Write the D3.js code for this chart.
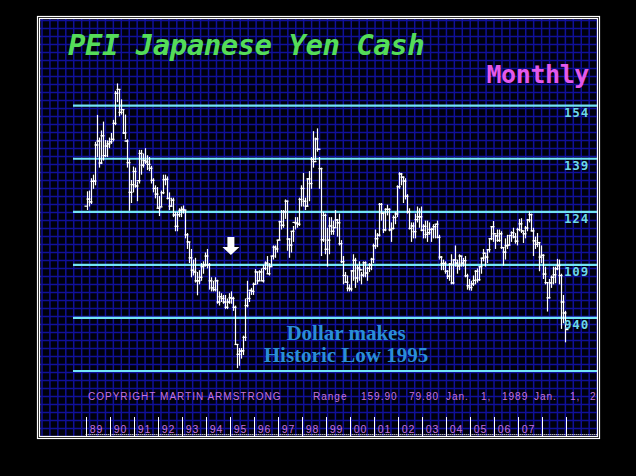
<!DOCTYPE html>
<html>
<head>
<meta charset="utf-8">
<script src="https://cdn.jsdelivr.net/npm/d3@7"></script>
<style>
  html, body { margin: 0; padding: 0; background: #000; }
  svg { display: block; }
</style>
</head>
<body>
<svg id="chart" width="636" height="476"></svg>
<script>
// ---------- DATA (monthly USD/JPY, Jan 1989 .. Dec 2008) ----------
const startYear = 1989;
const firstOpen = 125.6;
const highs = [
  129.8,130.0,133.5,134.5,143.8,151.4,145.0,147.0,149.5,144.3,144.2,145.0,
  146.3,150.0,158.2,160.3,158.5,155.8,153.0,151.5,144.5,139.0,133.0,136.8,
  136.5,132.5,141.5,141.5,140.5,142.0,140.0,139.5,137.0,133.5,131.5,131.0,
  128.5,130.0,134.5,134.5,134.0,129.5,128.0,128.0,124.0,124.0,125.0,125.5,
  125.8,124.5,118.0,115.5,113.5,110.5,111.0,107.0,107.5,109.5,110.0,112.5,
  113.5,109.5,105.5,104.5,105.5,104.8,101.5,101.0,100.5,100.5,99.5,101.0,
  101.5,100.0,97.5,86.6,85.5,85.5,89.0,99.5,104.5,101.5,102.5,104.0,
  107.8,107.0,107.5,108.0,109.0,110.0,111.5,109.5,111.5,114.5,114.5,116.0,
  121.5,124.5,124.5,127.5,127.2,116.5,118.5,120.0,122.5,122.5,128.0,131.5,
  135.0,128.0,133.5,135.5,139.5,146.8,145.0,147.6,139.5,136.5,124.0,123.5,
  119.5,122.5,122.5,121.5,124.5,122.0,123.5,116.0,111.5,107.0,106.0,103.5,
  107.5,112.0,111.0,109.0,110.0,107.0,110.0,110.0,108.5,109.5,111.0,115.0,
  119.0,118.0,126.5,126.5,124.0,125.0,126.0,125.0,121.0,123.0,124.0,131.5,
  135.2,135.0,134.0,133.5,129.0,125.0,121.0,121.0,123.5,125.5,125.0,125.5,
  120.5,121.5,121.5,121.0,119.5,120.5,120.5,121.5,117.5,111.5,110.5,110.0,
  107.5,109.5,112.0,110.5,114.5,110.5,112.0,111.5,111.0,111.5,106.5,105.0,
  104.5,106.0,107.5,108.0,108.5,111.0,113.5,112.0,113.5,116.5,120.0,121.4,
  117.5,119.0,119.0,118.5,114.0,116.5,117.5,117.5,118.5,119.5,118.0,119.5,
  122.0,122.2,118.5,120.0,122.0,124.1,123.5,119.5,117.0,118.0,115.5,114.5,
  112.0,108.5,104.0,105.0,106.0,108.5,108.5,110.7,110.5,106.5,100.5,96.0
];
const lows = [
  124.5,125.5,126.2,130.5,131.5,139.5,136.5,137.5,138.5,139.5,139.5,142.0,
  143.2,143.9,148.5,155.0,151.0,151.5,146.0,144.5,136.5,124.3,126.5,129.5,
  130.8,127.0,132.0,134.5,136.5,137.5,135.8,135.5,132.0,129.5,127.8,125.0,
  122.8,125.5,129.0,131.5,127.5,124.5,125.5,122.5,118.5,118.5,122.5,122.5,
  123.5,116.5,113.5,109.5,105.5,106.0,104.0,100.4,103.5,104.5,106.5,108.5,
  108.0,102.0,101.5,101.5,101.5,98.0,97.5,98.5,98.0,96.5,96.5,98.0,
  98.0,96.0,86.5,79.8,80.5,82.5,83.5,87.5,97.0,98.5,100.5,100.5,
  103.5,103.5,104.5,104.5,104.0,107.5,106.5,106.0,108.5,110.5,111.0,112.5,
  116.0,119.0,119.5,122.0,113.0,111.0,112.5,115.5,119.0,119.5,120.0,125.5,
  125.5,124.5,125.5,127.0,130.5,136.5,138.5,141.0,130.5,111.5,115.5,112.0,
  108.5,112.0,117.5,117.5,119.5,117.0,114.5,109.5,103.5,104.0,101.5,101.5,
  101.5,104.5,102.5,104.0,104.5,103.5,105.5,105.5,104.5,107.0,107.5,109.5,
  113.5,114.0,117.0,121.5,118.0,118.5,123.0,118.5,115.5,119.0,120.5,122.5,
  130.5,131.5,126.5,127.5,123.5,119.0,115.5,116.5,116.5,121.0,119.5,118.5,
  116.5,116.5,115.5,117.5,115.5,116.5,116.5,116.5,110.5,107.5,107.5,106.5,
  105.0,104.5,103.5,103.5,108.5,106.5,107.5,108.5,108.5,105.5,102.0,101.8,
  101.7,103.0,103.5,104.0,104.5,106.5,110.0,108.5,109.5,112.5,116.0,115.5,
  113.5,115.5,115.5,113.5,108.8,110.5,113.5,114.5,115.5,116.5,115.0,114.5,
  118.5,118.0,115.2,116.5,118.5,121.0,118.5,111.5,113.5,114.0,107.2,109.5,
  105.0,103.5,95.8,99.5,102.5,103.5,103.8,107.5,103.5,90.9,92.5,87.1
];
const closes = [
  127.6,126.8,132.6,132.7,142.9,144.0,137.8,145.5,139.9,142.6,143.2,143.8,
  144.5,149.0,157.5,158.6,152.1,152.9,146.3,144.0,137.9,129.5,131.7,135.4,
  131.3,132.8,140.5,137.2,138.5,138.1,137.4,136.3,132.9,130.6,129.0,125.0,
  125.4,129.4,133.1,133.2,127.8,125.6,127.3,123.1,119.9,123.2,124.4,124.7,
  124.5,117.5,115.5,111.0,107.5,107.0,104.5,104.5,105.5,108.5,109.0,111.5,
  109.0,104.5,102.5,102.0,104.5,98.5,100.0,99.5,98.5,97.0,98.5,99.7,
  99.5,97.0,86.5,83.7,84.6,84.7,88.5,97.5,99.5,101.8,101.5,103.5,
  107.0,104.5,107.0,104.5,108.0,109.5,106.5,108.5,111.5,114.0,113.5,116.0,
  121.2,120.2,124.0,127.0,116.3,114.6,118.5,121.0,120.8,120.5,127.5,130.6,
  127.0,125.6,133.3,132.0,138.8,138.2,144.6,141.7,136.2,116.1,123.0,113.4,
  116.0,120.0,118.5,119.5,121.7,120.9,115.0,109.9,106.0,104.1,102.4,102.2,
  107.3,110.3,105.3,108.1,107.6,106.1,109.6,106.7,108.0,109.0,110.6,114.4,
  116.4,117.4,126.1,123.6,118.9,124.7,124.7,118.9,119.3,122.4,123.4,131.1,
  134.7,133.8,132.7,128.4,124.0,119.3,120.0,118.4,121.8,122.6,122.6,118.8,
  119.9,117.6,118.1,119.0,119.1,119.8,120.5,116.8,111.2,109.4,109.4,107.2,
  105.8,109.2,103.9,110.4,109.5,108.7,111.5,109.5,110.2,105.9,103.1,102.6,
  103.6,104.6,107.2,104.8,108.5,110.9,112.3,111.2,113.3,116.4,119.8,117.8,
  117.2,115.9,117.8,113.9,112.6,114.4,114.6,117.3,118.1,116.9,115.7,119.0,
  120.6,118.6,117.8,119.4,121.7,123.2,118.6,115.8,114.8,115.3,111.2,111.7,
  106.4,104.0,99.7,103.9,105.5,106.2,107.9,108.8,106.0,98.5,95.4,90.7
];
const priceLevels = [154, 139, 124, 109, 94, 79];
const priceLabels = ["154", "139", "124", "109", "940", ""];
const yearTicks = d3.range(1989, 2010);
const yearLabels = ["89","90","91","92","93","94","95","96","97","98","99","00","01","02","03","04","05","06","07"];
const title = "PEI Japanese Yen Cash";
const periodLabel = "Monthly";
const footerTokens = [
  ["COPYRIGHT MARTIN ARMSTRONG", 88], ["Range", 313], ["159.90", 361], ["79.80", 409],
  ["Jan.", 446], ["1,", 481], ["1989", 502], ["Jan.", 534], ["1,", 570], ["2008", 590]
];
const noteLines = ["Dollar makes", "Historic Low 1995"];

// ---------- BUILD ----------
const bars = highs.map((h, i) => ({
  t: startYear + (i + 0.5) / 12,
  high: h, low: lows[i], close: closes[i],
  open: i === 0 ? firstOpen : closes[i - 1]
}));

const svg = d3.select("#chart");
const W = 636, H = 476;
svg.append("rect").attr("width", W).attr("height", H).attr("fill", "#000");

const inner = { x0: 39, y0: 18, x1: 597, y1: 436 };
svg.append("defs").append("clipPath").attr("id", "clipIn")
  .append("rect").attr("x", inner.x0).attr("y", inner.y0)
  .attr("width", inner.x1 - inner.x0).attr("height", inner.y1 - inner.y0);

const panel = svg.append("g").attr("clip-path", "url(#clipIn)");
panel.append("rect").attr("x", inner.x0).attr("y", inner.y0)
  .attr("width", inner.x1 - inner.x0).attr("height", inner.y1 - inner.y0)
  .attr("fill", "#00000c");

// grid
const gx = d3.range(42, inner.x1 + 1, 7.93);
const gy = d3.range(20.5, inner.y1 + 1, 8);
const grid = panel.append("g").attr("stroke", "#10109a").attr("stroke-width", 1.5);
grid.selectAll("line.v").data(gx).join("line").attr("class", "v")
  .attr("x1", d => d).attr("x2", d => d).attr("y1", inner.y0).attr("y2", inner.y1);
grid.selectAll("line.h").data(gy).join("line").attr("class", "h")
  .attr("y1", d => d).attr("y2", d => d).attr("x1", inner.x0).attr("x2", inner.x1);

// scales
const x = d3.scaleLinear().domain([1989, 2009]).range([85.7, 565.7]);
const y = d3.scaleLinear().domain([79, 154]).range([371, 105.7]);

// price level lines
panel.append("g").selectAll("line").data(priceLevels).join("line")
  .attr("x1", 73).attr("x2", inner.x1)
  .attr("y1", d => y(d)).attr("y2", d => y(d))
  .attr("stroke", "#72e4f4").attr("stroke-width", 2.2);

// bars (OHLC)
const barG = panel.append("g").attr("stroke", "#ffffff").attr("stroke-width", 1.2);
const bx = d => Math.round(x(d.t)) + 0.5;
barG.selectAll("line.hl").data(bars).join("line").attr("class", "hl")
  .attr("x1", bx).attr("x2", bx).attr("y1", d => y(d.high)).attr("y2", d => y(d.low));
barG.selectAll("line.op").data(bars).join("line").attr("class", "op")
  .attr("x1", d => bx(d) - 3).attr("x2", bx).attr("y1", d => y(d.open)).attr("y2", d => y(d.open));
barG.selectAll("line.cl").data(bars).join("line").attr("class", "cl")
  .attr("x1", bx).attr("x2", d => bx(d) + 3).attr("y1", d => y(d.close)).attr("y2", d => y(d.close));

// price labels
panel.append("g").selectAll("text").data(priceLevels.map((v, i) => ({ v, s: priceLabels[i] })))
  .join("text")
  .attr("x", 589).attr("y", d => y(d.v) + 11)
  .attr("text-anchor", "end")
  .attr("font-family", "DejaVu Sans Mono").attr("font-weight", "bold").attr("font-size", 12.5)
  .attr("letter-spacing", 0.8)
  .attr("fill", "#6cd6ea").text(d => d.s);

// arrow
const ax = x(1995.05), ay = 237;
panel.append("path")
  .attr("d", `M${ax - 3.5},${ay} L${ax + 3.5},${ay} L${ax + 3.5},${ay + 10} L${ax + 8.5},${ay + 10} L${ax},${ay + 18} L${ax - 8.5},${ay + 10} L${ax - 3.5},${ay + 10} Z`)
  .attr("fill", "#ffffff");

// annotation
panel.append("g").selectAll("text").data(noteLines).join("text")
  .attr("x", 346).attr("y", (d, i) => 340 + i * 22)
  .attr("text-anchor", "middle")
  .attr("font-family", "Liberation Serif").attr("font-weight", "bold").attr("font-size", 21)
  .attr("fill", "#2a8ed8").text(d => d);

// title
panel.append("text").attr("x", 68).attr("y", 54.5)
  .attr("font-family", "DejaVu Sans Mono").attr("font-style", "italic").attr("font-weight", "bold")
  .attr("font-size", 29).attr("letter-spacing", -0.5)
  .attr("fill", "#55dc58").text(title);
panel.append("text").attr("x", 589).attr("y", 83).attr("text-anchor", "end")
  .attr("font-family", "DejaVu Sans Mono").attr("font-weight", "bold")
  .attr("font-size", 25).attr("letter-spacing", -0.4)
  .attr("fill", "#e458ea").text(periodLabel);

// footer
panel.append("g").selectAll("text").data(footerTokens).join("text")
  .attr("x", d => d[1]).attr("y", 400)
  .attr("font-family", "Liberation Sans").attr("font-size", 10).attr("letter-spacing", 1)
  .attr("fill", "#c673dc").text(d => d[0]);

// year axis
const axisG = panel.append("g");
axisG.selectAll("line").data(yearTicks).join("line")
  .attr("x1", d => Math.round(x(d)) + 0.5).attr("x2", d => Math.round(x(d)) + 0.5)
  .attr("y1", 417).attr("y2", inner.y1)
  .attr("stroke", "#ffffff").attr("stroke-width", 1);
axisG.selectAll("text").data(yearLabels).join("text")
  .attr("x", (d, i) => x(1989 + i) + 4).attr("y", 433)
  .attr("font-family", "Liberation Sans").attr("font-size", 10.5).attr("letter-spacing", 1)
  .attr("fill", "#c673dc").text(d => d);
axisG.append("line").attr("x1", x(1989)).attr("x2", inner.x1).attr("y1", 434.5).attr("y2", 434.5)
  .attr("stroke", "#ffffff").attr("stroke-dasharray", "1,1");

// double border
svg.append("rect").attr("x", 37.5).attr("y", 16.5).attr("width", 562).attr("height", 422)
  .attr("fill", "none").attr("stroke", "#fff").attr("stroke-width", 1.2);
svg.append("rect").attr("x", 39.5).attr("y", 18.5).attr("width", 558).attr("height", 418)
  .attr("fill", "none").attr("stroke", "#fff").attr("stroke-width", 1.2);
</script>
</body>
</html>
